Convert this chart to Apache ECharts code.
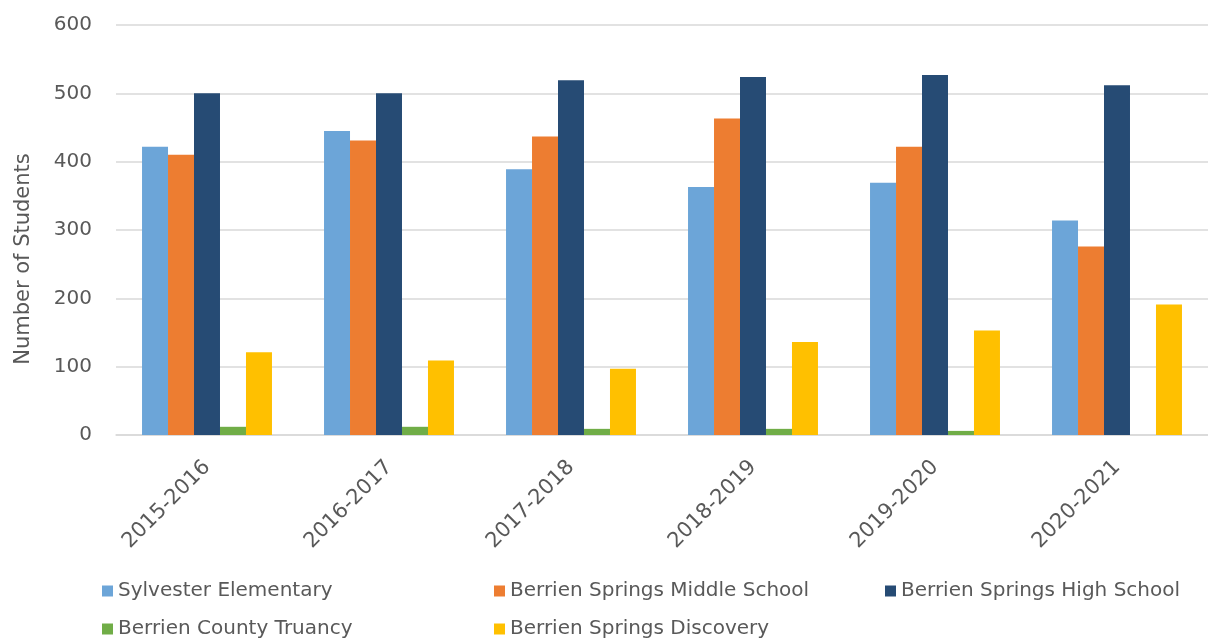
<!DOCTYPE html>
<html>
<head>
<meta charset="utf-8">
<script src="https://cdn.jsdelivr.net/npm/echarts@6/dist/echarts.min.js"></script>
<style>
  html, body { margin: 0; padding: 0; background: #ffffff; }
  #chart { width: 1208px; height: 638px; }
</style>
</head>
<body>
<div id="chart"></div>
<script>
// School years on the category axis
const years = ['2015-2016', '2016-2017', '2017-2018', '2018-2019', '2019-2020', '2020-2021'];

// Enrollment per school, one value per year
const sylvester = [422, 445, 389, 363, 369, 314];
const middleSchool = [410, 431, 437, 463, 422, 276];
const highSchool = [500, 500, 519, 524, 527, 512];
const truancy = [12, 12, 9, 9, 6, 0];
const discovery = [121, 109, 97, 136, 153, 191];

const seriesNames = [
  'Sylvester Elementary',
  'Berrien Springs Middle School',
  'Berrien Springs High School',
  'Berrien County Truancy',
  'Berrien Springs Discovery'
];
const seriesValues = [sylvester, middleSchool, highSchool, truancy, discovery];
const colors = ['#6CA5D8', '#ED7D31', '#264B74', '#70AD47', '#FFC000'];

const textColor = '#595959';
const fontFamily = '"DejaVu Sans", sans-serif';

// One legend block per entry so the two-row, three-column layout is fixed
const legendSpots = [
  { left: 102, top: 581 },
  { left: 494, top: 581 },
  { left: 885, top: 581 },
  { left: 102, top: 619 },
  { left: 494, top: 619 }
];
const legends = seriesNames.map((name, i) => ({
  data: [name],
  left: legendSpots[i].left,
  top: legendSpots[i].top,
  padding: 0,
  icon: 'rect',
  itemWidth: 11,
  itemHeight: 11,
  itemGap: 0,
  selectedMode: false,
  textStyle: { color: textColor, fontSize: 20, fontFamily: fontFamily, padding: [0, 0, 0, 0] }
}));

const chart = echarts.init(document.getElementById('chart'), null, { renderer: 'canvas' });
chart.setOption({
  animation: false,
  color: colors,
  grid: { left: 116, right: 0, top: 25, bottom: 203, containLabel: false },
  legend: legends,
  xAxis: {
    type: 'category',
    data: years,
    axisLine: { lineStyle: { color: '#d9d9d9', width: 1.5 } },
    axisTick: { show: false },
    axisLabel: {
      rotate: 45,
      margin: 29,
      color: textColor,
      fontSize: 21,
      fontFamily: fontFamily
    }
  },
  yAxis: {
    type: 'value',
    min: 0,
    max: 600,
    interval: 100,
    name: 'Number of Students',
    nameLocation: 'middle',
    nameGap: 82,
    nameTextStyle: { color: textColor, fontSize: 21, fontFamily: fontFamily, padding: [0, 58, 0, 0] },
    axisLine: { show: false },
    axisTick: { show: false },
    axisLabel: { color: textColor, fontSize: 20, fontFamily: fontFamily, margin: 24 },
    splitLine: { lineStyle: { color: '#d9d9d9', width: 1.5 } }
  },
  series: seriesNames.map((name, i) => ({
    name: name,
    type: 'bar',
    data: seriesValues[i],
    barGap: '0%',
    barCategoryGap: '28.6%',
    itemStyle: { color: colors[i] }
  }))
});
</script>
</body>
</html>
